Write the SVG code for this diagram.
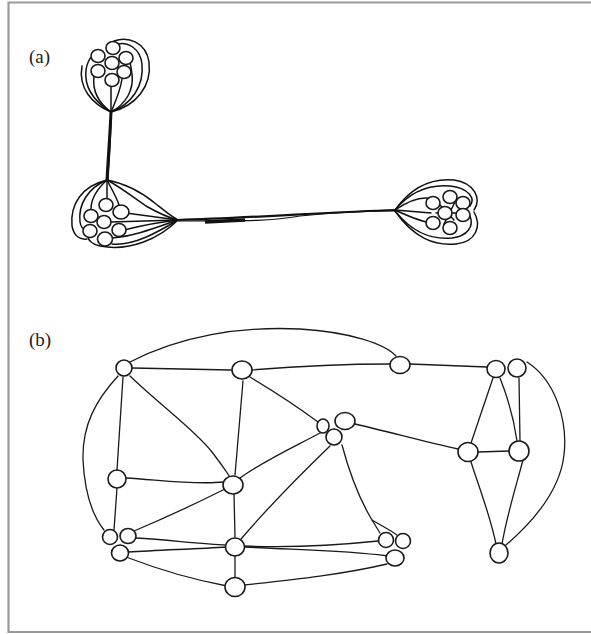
<svg xmlns="http://www.w3.org/2000/svg" width="591" height="634" viewBox="0 0 591 634">
<style>
.n{fill:#fff;stroke:#1a1a1a;stroke-width:1.6}
.e{fill:none;stroke:#1a1a1a;stroke-width:1.3;stroke-linecap:round}
.b{fill:none;stroke:#111;stroke-width:1.5;stroke-linecap:round}
.lbl{font-family:"Liberation Serif",serif;font-size:19px;fill:#222}
.frame{fill:none;stroke:#9a9a9a;stroke-width:2.2}
</style>
<rect width="591" height="634" fill="#fff"/>
<path class="frame" d="M591,2.5 H8.5 V632 H591"/>
<text class="lbl" x="29" y="63">(a)</text>
<text class="lbl" x="29" y="346">(b)</text>

<g id="connectors">
  <!-- part (a) bundles -->
  <path d="M111,112 C110,135 108,160 107,180" fill="none" stroke="#111" stroke-width="3"/>
  <path d="M111,112 C111,140 109,160 108,180" fill="none" stroke="#111" stroke-width="1.4"/>
  <path d="M178,220 C250,218 330,212 395,210" fill="none" stroke="#111" stroke-width="2.2"/>
  <path d="M178,221 C220,220 260,223 300,216 C340,212 370,211 395,211" fill="none" stroke="#111" stroke-width="1.2"/>
  <path d="M205,222 L245,220" fill="none" stroke="#111" stroke-width="3.5"/>
  <!-- cluster 1 loops -->
  <path class="b" d="M111,112 C100,104 92,92 94,76"/>
  <path class="b" d="M111,112 C95,102 84,88 86,70 C87,62 90,58 93,55"/>
  <path class="b" d="M111,112 C92,104 78,88 82,66"/>
  <path class="b" d="M111,112 L111,86"/>
  <path class="b" d="M111,112 C116,100 120,92 122,79"/>
  <path class="b" d="M111,112 C126,104 134,90 132,74 C131,66 130,62 129,60"/>
  <path class="b" d="M111,112 C132,104 144,86 142,64 C140,48 128,42 118,44"/>
  <path class="b" d="M111,112 C136,106 152,86 149,62 C146,42 128,36 114,41"/>
  <!-- cluster 2 loops -->
  <path class="b" d="M107,180 L107,199"/>
  <path class="b" d="M107,180 C112,190 117,198 119,205"/>
  <path class="b" d="M107,180 C96,190 91,200 91,209"/>
  <path class="b" d="M107,180 C88,188 78,204 80,222 C81,228 84,230 86,231"/>
  <path class="b" d="M107,180 C82,186 70,204 72,226 C74,236 80,240 87,239"/>
  <path class="b" d="M107,180 C122,188 134,198 146,206 C160,214 170,218 178,220"/>
  <path class="b" d="M107,180 C128,184 144,194 156,204 C166,212 172,217 178,220"/>
  <path class="b" d="M178,220 L126,213"/>
  <path class="b" d="M178,220 L111,222"/>
  <path class="b" d="M178,220 C160,222 140,226 124,230"/>
  <path class="b" d="M178,220 C160,226 136,236 112,238"/>
  <path class="b" d="M178,220 C158,232 134,246 112,244"/>
  <path class="b" d="M178,220 C160,238 130,252 100,246 C92,244 88,240 88,236"/>
  <!-- cluster 3 loops -->
  <path class="b" d="M395,210 C410,200 422,196 432,199"/>
  <path class="b" d="M395,210 L431,213"/>
  <path class="b" d="M395,210 C410,217 422,222 432,223"/>
  <path class="b" d="M395,210 C410,192 428,184 450,186 C468,188 476,198 470,206"/>
  <path class="b" d="M395,210 C412,186 432,178 454,180 C474,183 482,198 474,210"/>
  <path class="b" d="M395,211 C412,232 430,240 452,238 C468,236 474,226 470,216"/>
  <path class="b" d="M395,211 C414,238 434,246 456,244 C476,242 482,226 474,212"/>
  <path class="b" d="M440,205 L454,220 M456,200 L444,224 M436,213 L468,213"/>

  <!-- part (b) -->
  <path class="e" d="M132,368 L231,370"/>
  <path class="e" d="M251,370 C300,366 350,364 390,364"/>
  <path class="e" d="M410,364 L487,367"/>
  <path class="e" d="M130,362 C180,336 240,326 300,329 C350,332 385,344 396,356"/>
  <path class="e" d="M118,376 C96,400 82,425 83,460 C85,500 96,520 104,530"/>
  <path class="e" d="M123,377 L117,470"/>
  <path class="e" d="M130,376 C160,405 195,430 212,452 C222,465 228,474 230,477"/>
  <path class="e" d="M243,381 L235,475"/>
  <path class="e" d="M250,377 C275,392 298,407 318,422"/>
  <path class="e" d="M240,478 C265,460 292,448 322,432"/>
  <path class="e" d="M126,478 C160,480 195,485 223,482"/>
  <path class="e" d="M117,488 L114,530"/>
  <path class="e" d="M134,531 C165,518 195,504 225,489"/>
  <path class="e" d="M136,538 C170,540 200,544 227,545"/>
  <path class="e" d="M128,552 C160,550 195,549 227,547"/>
  <path class="e" d="M126,557 C160,570 195,580 227,586"/>
  <path class="e" d="M234,494 L235,537"/>
  <path class="e" d="M235,556 L235,577"/>
  <path class="e" d="M241,539 C270,505 300,475 330,446"/>
  <path class="e" d="M244,546 C290,548 330,546 378,541"/>
  <path class="e" d="M244,547 C300,550 345,550 388,556"/>
  <path class="e" d="M244,585 C290,580 340,575 387,564"/>
  <path class="e" d="M342,445 C350,475 360,500 372,520 L380,533"/>
  <path class="e" d="M372,520 C382,526 390,530 397,535"/>
  <path class="e" d="M355,424 C390,432 425,442 458,449"/>
  <path class="e" d="M493,378 L471,443"/>
  <path class="e" d="M500,378 C508,398 514,420 517,441"/>
  <path class="e" d="M519,378 L520,441"/>
  <path class="e" d="M527,362 C555,380 568,420 564,455 C560,490 535,520 506,545"/>
  <path class="e" d="M478,452 L509,451"/>
  <path class="e" d="M471,462 C480,490 490,515 496,544"/>
  <path class="e" d="M523,460 C515,490 507,515 502,544"/>
</g>

<g id="cluster-a1">
  <ellipse class="n" cx="98" cy="56" rx="7" ry="6.5"/>
  <ellipse class="n" cx="113" cy="48" rx="7" ry="6.5"/>
  <ellipse class="n" cx="126" cy="58" rx="7" ry="6.5"/>
  <ellipse class="n" cx="112" cy="63" rx="7" ry="6.5"/>
  <ellipse class="n" cx="98" cy="71" rx="7" ry="6.5"/>
  <ellipse class="n" cx="124" cy="72" rx="7" ry="6.5"/>
  <ellipse class="n" cx="112" cy="80" rx="7" ry="6.5"/>
</g>
<g id="cluster-a2">
  <ellipse class="n" cx="106" cy="205" rx="7" ry="6.5"/>
  <ellipse class="n" cx="121" cy="212" rx="8" ry="7"/>
  <ellipse class="n" cx="91" cy="216" rx="7" ry="6.5"/>
  <ellipse class="n" cx="104" cy="222" rx="7" ry="6.5"/>
  <ellipse class="n" cx="119" cy="230" rx="7" ry="6.5"/>
  <ellipse class="n" cx="90" cy="231" rx="7" ry="6.5"/>
  <ellipse class="n" cx="105" cy="239" rx="7.5" ry="7"/>
</g>
<g id="cluster-a3">
  <ellipse class="n" cx="433" cy="203" rx="7" ry="6.5"/>
  <ellipse class="n" cx="450" cy="197" rx="7" ry="6.5"/>
  <ellipse class="n" cx="463" cy="203" rx="7" ry="6.5"/>
  <ellipse class="n" cx="445" cy="213" rx="7" ry="6.5"/>
  <ellipse class="n" cx="463" cy="215" rx="7" ry="6.5"/>
  <ellipse class="n" cx="433" cy="223" rx="7" ry="6.5"/>
  <ellipse class="n" cx="450" cy="228" rx="7" ry="6.5"/>
</g>

<g id="node-A"><ellipse class="n" cx="124" cy="368" rx="8" ry="8"/></g>
<g id="node-B"><ellipse class="n" cx="242" cy="370" rx="10" ry="9"/></g>
<g id="node-C"><ellipse class="n" cx="400" cy="365" rx="10" ry="8.5"/></g>
<g id="node-D">
  <ellipse class="n" cx="496" cy="369" rx="9" ry="8.5"/>
  <ellipse class="n" cx="517" cy="368" rx="9" ry="9"/>
</g>
<g id="node-E">
  <ellipse class="n" cx="323" cy="426" rx="6" ry="7"/>
  <ellipse class="n" cx="345" cy="421" rx="10" ry="8.5"/>
  <ellipse class="n" cx="334" cy="437" rx="8" ry="8"/>
</g>
<g id="node-F"><ellipse class="n" cx="468" cy="452" rx="10" ry="9.5"/></g>
<g id="node-G"><ellipse class="n" cx="519" cy="451" rx="10" ry="10"/></g>
<g id="node-H"><ellipse class="n" cx="117" cy="479" rx="9" ry="9"/></g>
<g id="node-I"><ellipse class="n" cx="233" cy="485" rx="10" ry="9"/></g>
<g id="node-J">
  <ellipse class="n" cx="110" cy="537" rx="7.5" ry="7.5"/>
  <ellipse class="n" cx="128" cy="536" rx="8" ry="7.5"/>
  <ellipse class="n" cx="120" cy="553" rx="8.5" ry="8"/>
</g>
<g id="node-K"><ellipse class="n" cx="235" cy="547" rx="9.5" ry="9"/></g>
<g id="node-L">
  <ellipse class="n" cx="386" cy="540" rx="7.5" ry="7.5"/>
  <ellipse class="n" cx="403" cy="541" rx="7.5" ry="7.5"/>
  <ellipse class="n" cx="395" cy="558" rx="9" ry="8"/>
</g>
<g id="node-M"><ellipse class="n" cx="499" cy="553" rx="9" ry="10"/></g>
<g id="node-N"><ellipse class="n" cx="235" cy="587" rx="10" ry="9.5"/></g>
</svg>
